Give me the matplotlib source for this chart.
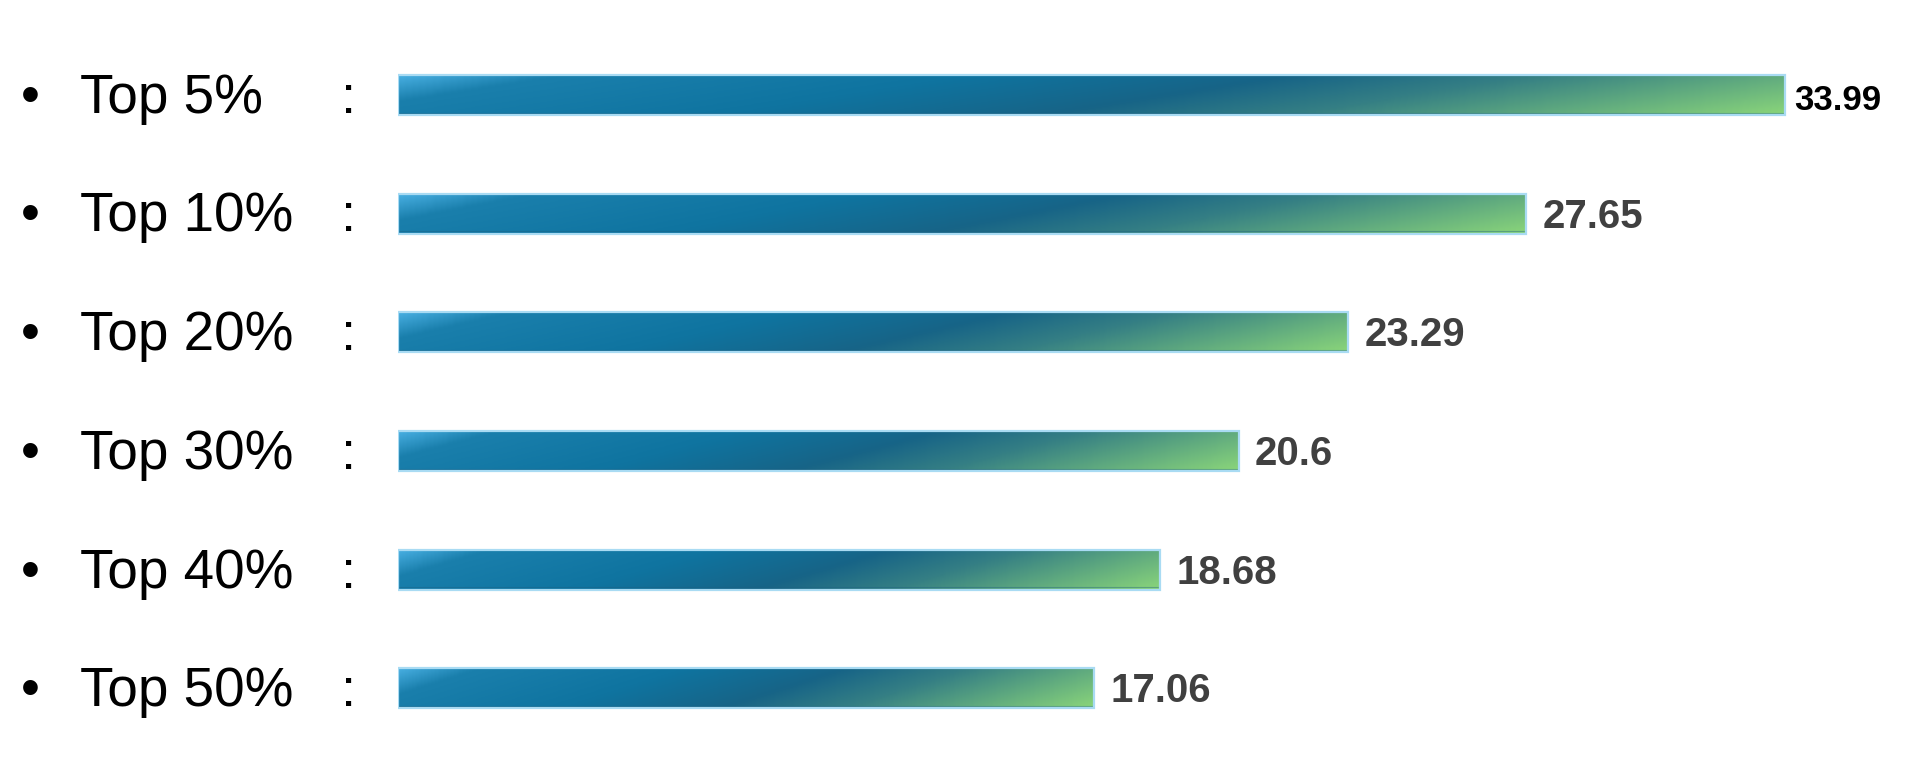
import numpy as np
import matplotlib
matplotlib.use("Agg")
import matplotlib.pyplot as plt
from matplotlib.colors import LinearSegmentedColormap
from matplotlib import transforms

plt.rcParams['font.family'] = ['Liberation Sans', 'DejaVu Sans']

categories = ['Top 5%', 'Top 10%', 'Top 20%', 'Top 30%', 'Top 40%', 'Top 50%']
values = [33.99, 27.65, 23.29, 20.6, 18.68, 17.06]
value_labels = ['33.99', '27.65', '23.29', '20.6', '18.68', '17.06']

# bar gradient: light blue corner -> teal blue -> green
grad = LinearSegmentedColormap.from_list('bargrad', [
    (0.00, '#49b0e3'),
    (0.10, '#1a7fac'),
    (0.35, '#0f74a0'),
    (0.55, '#176487'),
    (0.70, '#357f84'),
    (1.00, '#8ad57a'),
])

fig = plt.figure(figsize=(19.09, 7.84), dpi=100)
ax = fig.add_axes([398 / 1909, 0, 1 - 398 / 1909, 1])
ax.set_xlim(0, 37.03)
ax.set_ylim(5.805, -0.800)
ax.axis('off')

ypos = np.arange(len(categories))
bars = ax.barh(ypos, values, height=0.337, facecolor='none',
               edgecolor='#a9dbf3', linewidth=1.6, zorder=3)

# diagonal gradient image (normalised per bar)
nx, ny = 400, 40
u = np.linspace(0, 1, nx)[None, :]
v = np.linspace(0, 1, ny)[:, None]
t = (u + 0.18 * v) / 1.18
for b in bars:
    x0, y0, w, h = b.get_x(), b.get_y(), b.get_width(), b.get_height()
    im = ax.imshow(t, cmap=grad, aspect='auto', interpolation='bilinear',
                   extent=(x0, x0 + w, y0 + h, y0), zorder=2)
    im.set_clip_path(b)
    # thin darker line along the bottom
    ax.plot([x0, x0 + w], [y0 + h * 0.94, y0 + h * 0.94], color='#1c5f80',
            lw=0.8, alpha=0.4, zorder=2.5, solid_capstyle='butt')

# value labels
for i, (val, lab) in enumerate(zip(values, value_labels)):
    if i == 0:
        ax.annotate(lab, xy=(val, i), xytext=(6.5, -10.5), textcoords='offset points',
                    ha='left', va='baseline', fontsize=25, fontweight='bold',
                    color='#000000')
    else:
        ax.annotate(lab, xy=(val, i), xytext=(11.5, -10.0), textcoords='offset points',
                    ha='left', va='baseline', fontsize=29, fontweight='bold',
                    color='#404040')

# left side category labels
tr = transforms.blended_transform_factory(fig.transFigure, ax.transData)
for i, cat in enumerate(categories):
    yb = i + 0.15
    ax.text(30 / 1909, yb, '\u2022', transform=tr, ha='center', va='baseline',
            fontsize=39, color='black')
    ax.text(80 / 1909, yb, cat, transform=tr, ha='left', va='baseline',
            fontsize=39.5, color='black')
    ax.text(341 / 1909, yb, ':', transform=tr, ha='left', va='baseline',
            fontsize=39, color='black')

fig.savefig('out.png', dpi=100, facecolor='white')
